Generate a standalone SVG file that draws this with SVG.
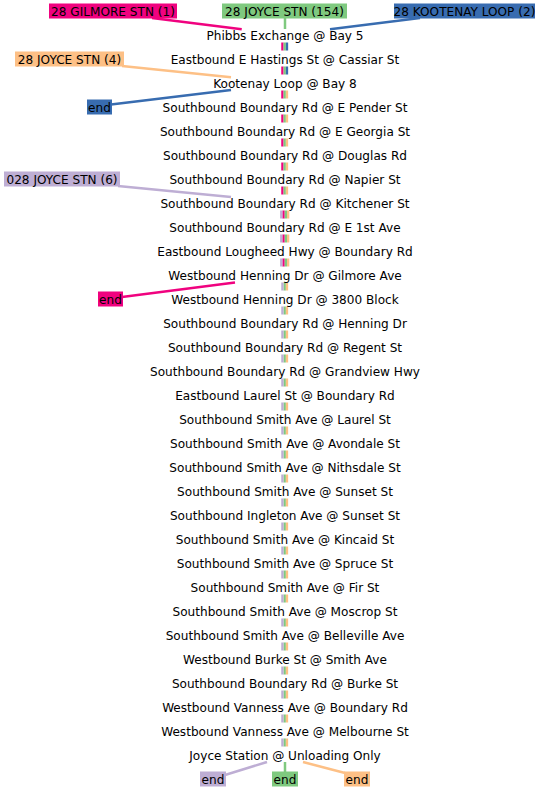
<svg xmlns="http://www.w3.org/2000/svg" width="541" height="792" viewBox="0 0 541 792">
<style>
text{font-family:"DejaVu Sans","Liberation Sans",sans-serif;font-size:12.1px;fill:#000;text-anchor:middle}
.r{stroke-width:2.3;fill:none;stroke-dasharray:8 16}
.c{stroke-width:2.5;fill:none}
.pk{stroke:#f0027f}.gr{stroke:#7fc97f}.bl{stroke:#386cb0}.or{stroke:#fdc086}.pu{stroke:#beaed4}
.fpk{fill:#f0027f}.fgr{fill:#7fc97f}.fbl{fill:#386cb0}.for{fill:#fdc086}.fpu{fill:#beaed4}
</style>
<rect width="541" height="792" fill="#fff"/>
<g id="connectors">
<line class="r pk" x1="282.4" y1="42.5" x2="282.4" y2="194.5"/>
<line class="r pk" x1="283.55" y1="210.5" x2="283.55" y2="266.5"/>
<line class="r gr" x1="284.7" y1="42.5" x2="284.7" y2="194.5"/>
<line class="r gr" x1="285.85" y1="210.5" x2="285.85" y2="266.5"/>
<line class="r gr" x1="284.7" y1="282.5" x2="284.7" y2="746.5"/>
<line class="r bl" x1="287" y1="42.5" x2="287" y2="74.5"/>
<line class="r or" x1="287" y1="90.5" x2="287" y2="194.5"/>
<line class="r or" x1="288.15" y1="210.5" x2="288.15" y2="266.5"/>
<line class="r or" x1="287" y1="282.5" x2="287" y2="746.5"/>
<line class="r pu" x1="281.25" y1="210.5" x2="281.25" y2="266.5"/>
<line class="r pu" x1="282.4" y1="282.5" x2="282.4" y2="746.5"/>
<line class="c pk" x1="152" y1="18" x2="241.7" y2="29.3"/>
<line class="c gr" x1="285" y1="18" x2="285" y2="29"/>
<line class="c bl" x1="420" y1="18" x2="330" y2="29.3"/>
<line class="c or" x1="122" y1="66" x2="231" y2="77.3"/>
<line class="c bl" x1="111" y1="104.5" x2="231" y2="90"/>
<line class="c pu" x1="118" y1="186" x2="231" y2="197"/>
<line class="c pk" x1="122" y1="297" x2="235" y2="282.5"/>
<line class="c pu" x1="225" y1="775" x2="267" y2="762"/>
<line class="c gr" x1="285" y1="762" x2="285" y2="772"/>
<line class="c or" x1="303" y1="762" x2="345" y2="773"/>
</g>
<g id="labels">
<g id="lbl-gilmore"><rect class="fpk" x="49" y="3.5" width="128" height="15"/><text x="113" y="15.8">28 GILMORE STN (1)</text></g>
<g id="lbl-joyce154"><rect class="fgr" x="222" y="3.5" width="125" height="15"/><text x="284.5" y="15.8">28 JOYCE STN (154)</text></g>
<g id="lbl-kootenay"><rect class="fbl" x="394" y="3.5" width="141" height="15"/><text x="464.5" y="15.8">28 KOOTENAY LOOP (2)</text></g>
<g id="lbl-joyce4"><rect class="for" x="15" y="51.5" width="109" height="15"/><text x="69.5" y="63.8">28 JOYCE STN (4)</text></g>
<g id="lbl-end-blue"><rect class="fbl" x="87" y="99.5" width="25" height="15"/><text x="99.5" y="111.8">end</text></g>
<g id="lbl-joyce6"><rect class="fpu" x="4" y="171.5" width="116" height="15"/><text x="62" y="183.8">028 JOYCE STN (6)</text></g>
<g id="lbl-end-pink"><rect class="fpk" x="98" y="291.5" width="25" height="15"/><text x="110.5" y="303.8">end</text></g>
<g id="lbl-end-purple"><rect class="fpu" x="200" y="771.5" width="26" height="15"/><text x="213" y="783.8">end</text></g>
<g id="lbl-end-green"><rect class="fgr" x="272" y="771.5" width="26" height="15"/><text x="285" y="783.8">end</text></g>
<g id="lbl-end-orange"><rect class="for" x="344" y="771.5" width="26" height="15"/><text x="357" y="783.8">end</text></g>
</g>
<g id="stations">
<g id="s0"><text x="285" y="40">Phibbs Exchange @ Bay 5</text></g>
<g id="s1"><text x="285" y="64">Eastbound E Hastings St @ Cassiar St</text></g>
<g id="s2"><text x="285" y="88">Kootenay Loop @ Bay 8</text></g>
<g id="s3"><text x="285" y="112">Southbound Boundary Rd @ E Pender St</text></g>
<g id="s4"><text x="285" y="136">Southbound Boundary Rd @ E Georgia St</text></g>
<g id="s5"><text x="285" y="160">Southbound Boundary Rd @ Douglas Rd</text></g>
<g id="s6"><text x="285" y="184">Southbound Boundary Rd @ Napier St</text></g>
<g id="s7"><text x="285" y="208">Southbound Boundary Rd @ Kitchener St</text></g>
<g id="s8"><text x="285" y="232">Southbound Boundary Rd @ E 1st Ave</text></g>
<g id="s9"><text x="285" y="256">Eastbound Lougheed Hwy @ Boundary Rd</text></g>
<g id="s10"><text x="285" y="280">Westbound Henning Dr @ Gilmore Ave</text></g>
<g id="s11"><text x="285" y="304">Westbound Henning Dr @ 3800 Block</text></g>
<g id="s12"><text x="285" y="328">Southbound Boundary Rd @ Henning Dr</text></g>
<g id="s13"><text x="285" y="352">Southbound Boundary Rd @ Regent St</text></g>
<g id="s14"><text x="285" y="376">Southbound Boundary Rd @ Grandview Hwy</text></g>
<g id="s15"><text x="285" y="400">Eastbound Laurel St @ Boundary Rd</text></g>
<g id="s16"><text x="285" y="424">Southbound Smith Ave @ Laurel St</text></g>
<g id="s17"><text x="285" y="448">Southbound Smith Ave @ Avondale St</text></g>
<g id="s18"><text x="285" y="472">Southbound Smith Ave @ Nithsdale St</text></g>
<g id="s19"><text x="285" y="496">Southbound Smith Ave @ Sunset St</text></g>
<g id="s20"><text x="285" y="520">Southbound Ingleton Ave @ Sunset St</text></g>
<g id="s21"><text x="285" y="544">Southbound Smith Ave @ Kincaid St</text></g>
<g id="s22"><text x="285" y="568">Southbound Smith Ave @ Spruce St</text></g>
<g id="s23"><text x="285" y="592">Southbound Smith Ave @ Fir St</text></g>
<g id="s24"><text x="285" y="616">Southbound Smith Ave @ Moscrop St</text></g>
<g id="s25"><text x="285" y="640">Southbound Smith Ave @ Belleville Ave</text></g>
<g id="s26"><text x="285" y="664">Westbound Burke St @ Smith Ave</text></g>
<g id="s27"><text x="285" y="688">Southbound Boundary Rd @ Burke St</text></g>
<g id="s28"><text x="285" y="712">Westbound Vanness Ave @ Boundary Rd</text></g>
<g id="s29"><text x="285" y="736">Westbound Vanness Ave @ Melbourne St</text></g>
<g id="s30"><text x="285" y="760">Joyce Station @ Unloading Only</text></g>
</g>
</svg>
